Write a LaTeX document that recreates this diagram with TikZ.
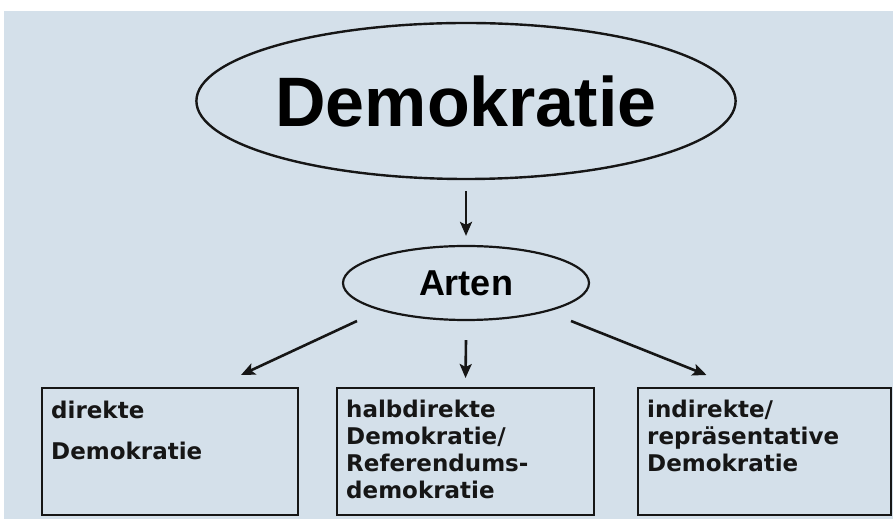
\documentclass[tikz,border=0pt]{standalone}
\usepackage{fontspec}
\setmainfont{Liberation Sans}
\newfontfamily\kastenfont{DejaVu Sans}
\usepackage{tikz}
\usetikzlibrary{arrows.meta, shapes.geometric, positioning}
\definecolor{hintergrund}{RGB}{212,224,234}
\definecolor{linie}{RGB}{22,22,22}

\begin{document}
\begin{tikzpicture}[x=1pt, y=1pt,
  pfeil/.style={line width=2.6pt, draw=linie, -{Stealth[length=14pt, width=12pt, inset=3pt]}},
  kasten/.style={draw=linie, line width=2pt, rectangle, minimum width=256pt, minimum height=127pt, inner sep=0pt},
  kastentext/.style={anchor=north west, align=left, inner sep=0pt, text=linie,
    font=\kastenfont\bfseries\fontsize{23}{27}\selectfont}]
% Hintergrund
\fill[white] (0,0) rectangle (893,519);
\fill[hintergrund] (4,0) rectangle (893,508);
\useasboundingbox (0,0) rectangle (893,519);
% Oberbegriff
\node[draw=linie, ellipse, line width=2.4pt, minimum width=527pt, minimum height=156pt, inner sep=0pt,
  font=\bfseries\fontsize{70}{80}\selectfont] (demokratie) at (466,418) {Demokratie};
% Arten
\node[draw=linie, ellipse, line width=2.2pt, minimum width=246pt, minimum height=74pt, inner sep=0pt,
  font=\bfseries\fontsize{36}{40}\selectfont] (arten) at (466,236) {Arten};
% Kaesten
\node[kasten] (direkt) at (170,67.5) {};
\node[kasten, minimum width=257pt] (halbdirekt) at (465.5,67.5) {};
\node[kasten, minimum width=253pt] (indirekt) at (764.5,67.5) {};
\node[kastentext] (direkttext) at ([xshift=10pt, yshift=-14pt]direkt.north west) {direkte\\[14pt]Demokratie};
\node[kastentext] (halbdirekttext) at ([xshift=10pt, yshift=-13pt]halbdirekt.north west) {halbdirekte\\Demokratie/\\Referendums-\\demokratie};
\node[kastentext] (indirekttext) at ([xshift=10pt, yshift=-13pt]indirekt.north west) {indirekte/\\repr\"asentative\\Demokratie};
% Pfeile
\draw[pfeil] ([yshift=-11pt]demokratie.south) -- ([yshift=9pt]arten.north);
\draw[pfeil] ([yshift=-19pt]arten.south) -- ([yshift=9pt]halbdirekt.north);
\draw[pfeil] ([shift={(-109pt,-38pt)}]arten.center) -- ([shift={(71pt,12pt)}]direkt.north);
\draw[pfeil] ([shift={(105pt,-38pt)}]arten.center) -- ([shift={(-58pt,12pt)}]indirekt.north);
\end{tikzpicture}
\end{document}
